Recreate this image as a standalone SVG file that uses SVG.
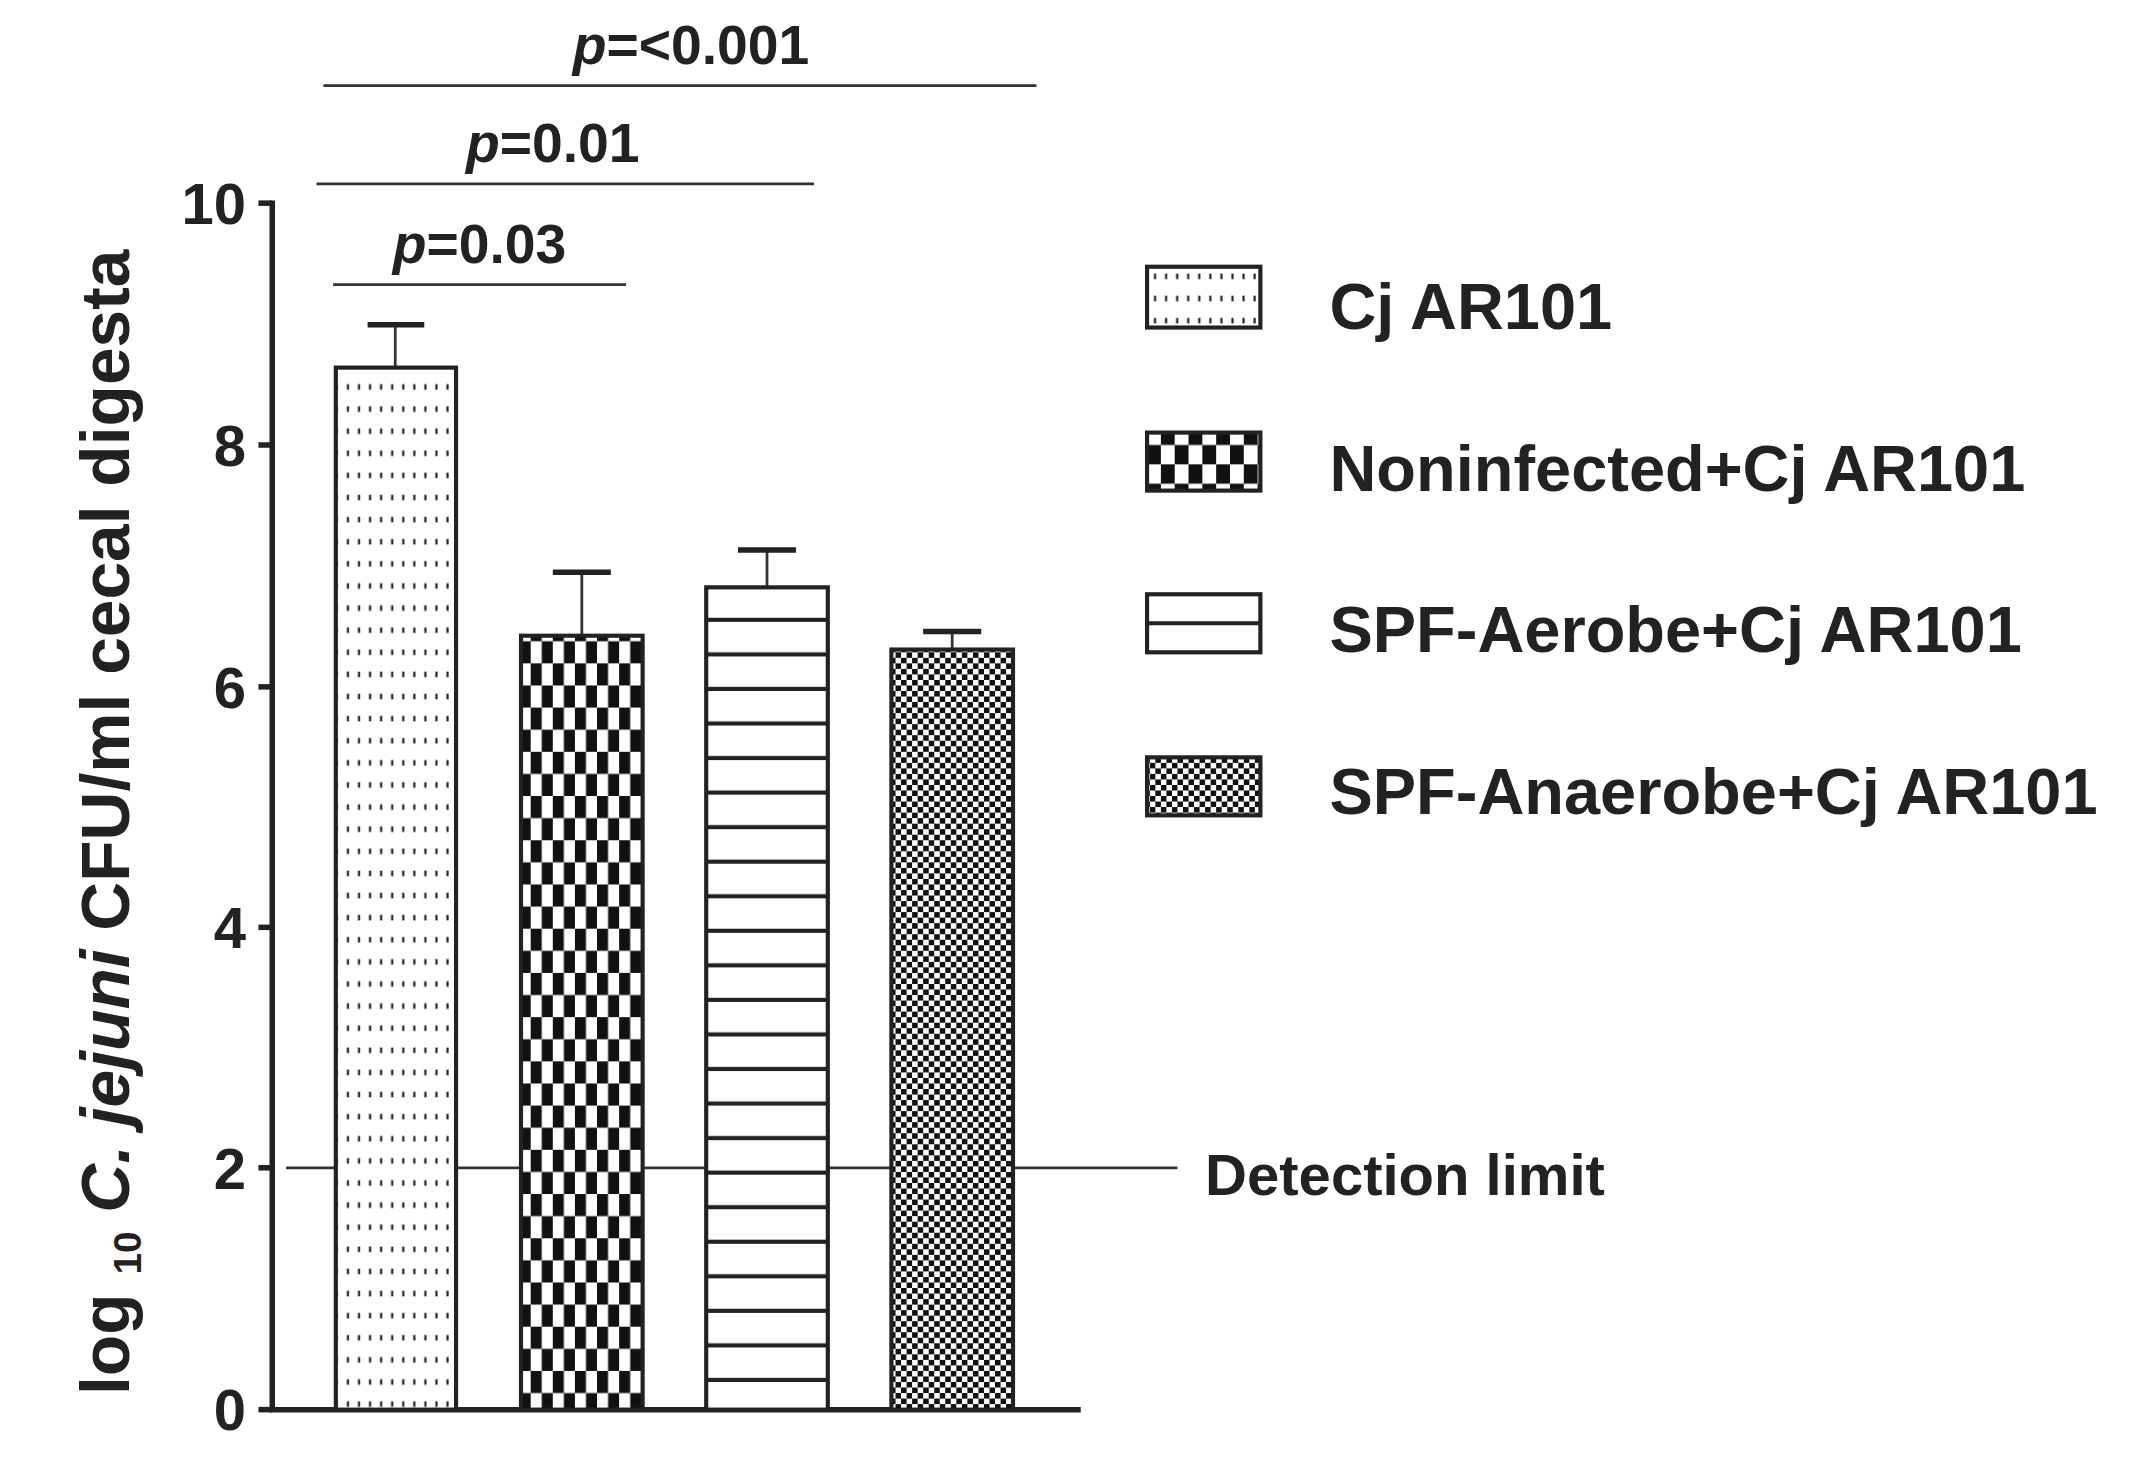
<svg xmlns="http://www.w3.org/2000/svg" width="2142" height="1467" viewBox="0 0 2142 1467">
<style>
text{font-family:"Liberation Sans",Arial,sans-serif;font-weight:bold;fill:#222}
.ax{stroke:#222;stroke-width:4;fill:none}
.thin{stroke:#333;stroke-width:2;fill:none}
.bar{stroke:#222;stroke-width:3}
.leg{font-size:47px}
.tk{font-size:42px;text-anchor:end}
.pv{font-size:40px;text-anchor:middle}
</style>
<defs>
<pattern id="dots" width="8" height="16" patternUnits="userSpaceOnUse"><rect width="8" height="16" fill="#fff"/><rect x="3" y="6" width="1.6" height="4" fill="#222"/></pattern>
<pattern id="check" width="16" height="32" patternUnits="userSpaceOnUse"><rect width="16" height="32" fill="#fff"/><rect x="0" y="0" width="8" height="16" fill="#111"/><rect x="8" y="16" width="8" height="16" fill="#111"/></pattern>
<pattern id="check2" width="20" height="28" patternUnits="userSpaceOnUse"><rect width="20" height="28" fill="#fff"/><rect x="0" y="0" width="10" height="14" fill="#111"/><rect x="10" y="14" width="10" height="14" fill="#111"/></pattern>
<pattern id="hlines" width="10" height="25" patternUnits="userSpaceOnUse"><rect width="10" height="25" fill="#fff"/><rect x="0" y="22" width="10" height="3" fill="#222"/></pattern>
<pattern id="fine" width="8" height="8" patternUnits="userSpaceOnUse"><rect width="8" height="8" fill="#fff"/><rect width="4" height="4" fill="#111"/><rect x="4" y="4" width="4" height="4" fill="#111"/></pattern>
</defs>
<rect width="2142" height="1467" fill="#fff"/>
<g transform="scale(1.382)">
<g id="detection">
<line x1="207" y1="845" x2="852" y2="845" class="thin"/>
<text x="872" y="865" font-size="42">Detection limit</text>
</g>
<g id="axes">
<line x1="197" y1="145" x2="197" y2="1021" class="ax"/>
<line x1="195" y1="1020" x2="782" y2="1020" class="ax"/>
<g class="ax">
<line x1="187" y1="1020" x2="197" y2="1020"/><line x1="187" y1="845" x2="197" y2="845"/><line x1="187" y1="671" x2="197" y2="671"/><line x1="187" y1="497" x2="197" y2="497"/><line x1="187" y1="322" x2="197" y2="322"/><line x1="187" y1="147" x2="197" y2="147"/>
</g>
<text class="tk" x="178" y="1035">0</text>
<text class="tk" x="178" y="860">2</text>
<text class="tk" x="178" y="686">4</text>
<text class="tk" x="178" y="512">6</text>
<text class="tk" x="178" y="337">8</text>
<text class="tk" x="178" y="162">10</text>
<text transform="translate(93,595) rotate(-90)" text-anchor="middle" font-size="49">log <tspan font-size="28" dy="9">10</tspan><tspan dy="-9" font-style="italic"> C. jejuni</tspan> CFU/ml cecal digesta</text>
</g>
<g id="bar1">
<line x1="286" y1="266" x2="286" y2="235" class="thin"/><line x1="266" y1="235" x2="307" y2="235" class="ax"/>
<rect x="243" y="266" width="87" height="754" fill="url(#dots)" class="bar"/>
</g>
<g id="bar2">
<line x1="421" y1="460" x2="421" y2="414" class="thin"/><line x1="400" y1="414" x2="442" y2="414" class="ax"/>
<rect x="377" y="460" width="88" height="560" fill="url(#check)" class="bar"/>
</g>
<g id="bar3">
<line x1="555" y1="425" x2="555" y2="398" class="thin"/><line x1="534" y1="398" x2="576" y2="398" class="ax"/>
<rect x="511" y="425" width="88" height="595" fill="url(#hlines)" class="bar"/>
</g>
<g id="bar4">
<line x1="689" y1="470" x2="689" y2="457" class="thin"/><line x1="668" y1="457" x2="710" y2="457" class="ax"/>
<rect x="645" y="470" width="88" height="550" fill="url(#fine)" class="bar"/>
</g>
<g id="sig">
<line x1="241" y1="206" x2="453" y2="206" class="thin"/>
<text class="pv" x="347" y="190"><tspan font-style="italic">p</tspan>=0.03</text>
<line x1="229" y1="133" x2="589" y2="133" class="thin"/>
<text class="pv" x="400" y="117"><tspan font-style="italic">p</tspan>=0.01</text>
<line x1="234" y1="62" x2="750" y2="62" class="thin"/>
<text class="pv" x="500" y="46"><tspan font-style="italic">p</tspan>=&lt;0.001</text>
</g>
<g id="legend">
<rect x="830" y="193" width="82" height="44" fill="url(#dots)" class="bar"/>
<text class="leg" x="962" y="238">Cj AR101</text>
<rect x="830" y="313" width="82" height="42" fill="url(#check2)" class="bar"/>
<text class="leg" x="962" y="355">Noninfected+Cj AR101</text>
<rect x="830" y="430" width="82" height="42" fill="#fff" class="bar"/>
<line x1="830" y1="451" x2="912" y2="451" class="bar"/>
<text class="leg" x="962" y="472">SPF-Aerobe+Cj AR101</text>
<rect x="830" y="548" width="82" height="42" fill="url(#fine)" class="bar"/>
<text class="leg" x="962" y="589">SPF-Anaerobe+Cj AR101</text>
</g>
</g>
</svg>
